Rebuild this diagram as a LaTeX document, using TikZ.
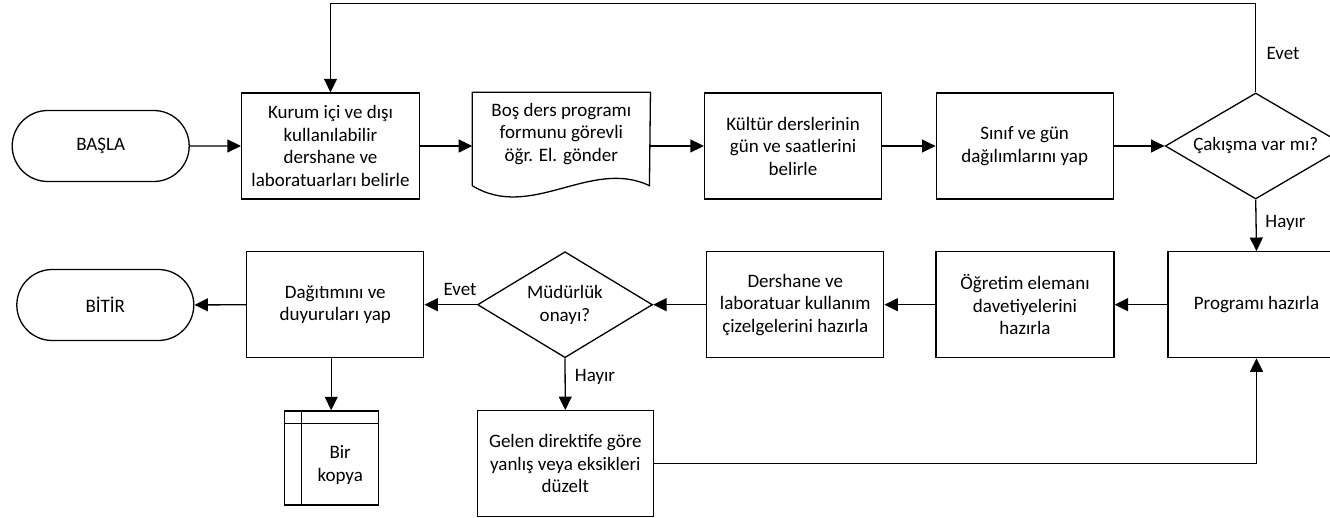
\documentclass[tikz,border=0pt]{standalone}
\usepackage{fontspec}
\setmainfont{Carlito}
\usetikzlibrary{shapes.geometric,shapes.misc,arrows.meta}

\begin{document}
\begin{tikzpicture}[
x=1pt, y=-1pt,
font=\fontsize{19pt}{22.5pt}\selectfont,
line width=1.3pt,
islem/.style={draw, rectangle, align=center, inner sep=0pt, minimum width=177pt, minimum height=106pt},
uc/.style={draw, rounded rectangle, inner sep=0pt, minimum width=177pt, minimum height=71pt},
karar/.style={draw, diamond, aspect=1.7, align=center, inner sep=0pt, minimum width=177pt, minimum height=106pt},
belge/.style={rectangle, align=center, inner sep=0pt, minimum width=177pt, minimum height=82pt},
depo/.style={draw, rectangle, inner sep=0pt, minimum width=94pt, minimum height=94pt},
etiket/.style={inner sep=0pt},
ok/.style={-{Triangle[length=13.5pt,width=13pt]}}
]
\useasboundingbox (0,0) rectangle (1330,518);

\node[uc] (basla) at (100.7,146) {BAŞLA};
\node[islem, minimum width=178pt] (kurum) at (330.5,146) {Kurum içi ve dışı\\kullanılabilir\\dershane ve\\laboratuarları belirle};
\node[belge] (bos) at (561.3,134) {Boş ders programı\\formunu görevli\\öğr. El. gönder};
\node[islem] (kultur) at (793,146) {Kültür derslerinin\\gün ve saatlerini\\belirle};
\node[islem] (sinif) at (1024.7,146) {Sınıf ve gün\\dağılımlarını yap};
\node[karar, minimum width=181pt] (cakisma) at (1255.7,146) {Çakışma var mı?};

\node[uc] (bitir) at (105.3,305) {BİTİR};
\node[islem] (dagitim) at (335.3,304.7) {Dağıtımını ve\\duyuruları yap};
\node[karar, minimum width=175pt] (mudurluk) at (565,304.7) {Müdürlük\\onayı?};
\node[islem] (dershane) at (795.3,304.7) {Dershane ve\\laboratuar kullanım\\çizelgelerini hazırla};
\node[islem, minimum width=178pt] (ogretim) at (1025,304.7) {Öğretim elemanı\\davetiyelerini\\hazırla};
\node[islem] (programi) at (1256.5,304.7) {Programı hazırla};

\node[islem, minimum width=176pt] (gelen) at (565.3,463.7) {Gelen direktife göre\\yanlış veya eksikleri\\düzelt};
\node[depo] (kopya) at (331.2,457.9) {};
\node[align=center, inner sep=0pt] (kopyayazi) at ([xshift=9pt,yshift=-7pt]kopya.center) {Bir\\kopya};

\draw (bos.north east) -- (bos.north west) -- ++(0,93.3) .. controls +(59,36) and +(-59,-28) .. ++(177.3,0) -- cycle;
\draw ([xshift=18pt]kopya.north west) -- ([xshift=18pt]kopya.south west);
\draw ([yshift=-13.3pt]kopya.north west) -- ([yshift=-13.3pt]kopya.north east);

\node[etiket] (evet1) at (1283,53) {Evet};
\node[etiket] (hayir1) at (1285.5,223) {Hayır};
\node[etiket] (evet2) at (460,289) {Evet};
\node[etiket] (hayir2) at (595,377) {Hayır};

\draw[ok] (basla) -- (kurum);
\draw[ok] (kurum.east) -- (kurum.east -| bos.west);
\draw[ok] (bos.east |- kultur.west) -- (kultur.west);
\draw[ok] (kultur) -- (sinif);
\draw[ok] (sinif) -- (cakisma);
\draw[ok] (cakisma.north) |- ([yshift=89pt]kurum.north) -- (kurum.north);
\draw[ok] (cakisma.south) -- (programi.north);

\draw[ok] (programi) -- (ogretim);
\draw[ok] (ogretim) -- (dershane);
\draw[ok] (dershane) -- (mudurluk);
\draw[ok] (mudurluk) -- (dagitim);
\draw[ok] (dagitim) -- (bitir);
\draw[ok] (dagitim.south -| kopya.north) -- (kopya.north);
\draw[ok] (mudurluk.south) -- (gelen.north);
\draw[ok] (gelen.east) -| (programi.south);

\end{tikzpicture}
\end{document}
